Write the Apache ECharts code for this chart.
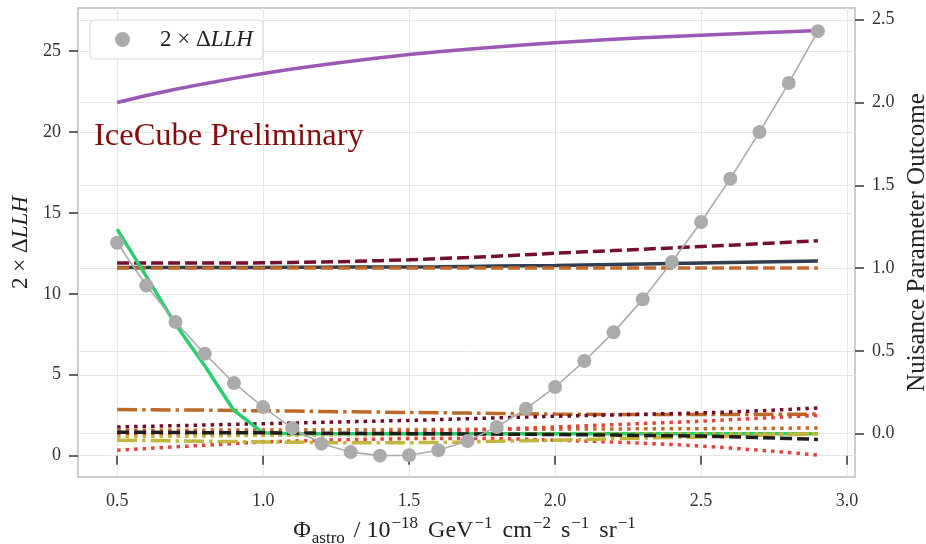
<!DOCTYPE html>
<html>
<head>
<meta charset="utf-8">
<script src="https://cdn.jsdelivr.net/npm/echarts@6/dist/echarts.min.js"></script>
<style>
  html, body { margin: 0; padding: 0; background: #fff; }
  #chart { width: 926px; height: 544px; }
</style>
</head>
<body>
<div id="chart"></div>
<script>
// flux points (x) and 2*dLLH scan (left axis)
const phi = [0.5, 0.6, 0.7, 0.8, 0.9, 1.0, 1.1, 1.2, 1.3, 1.4, 1.5, 1.6, 1.7, 1.8, 1.9, 2.0, 2.1, 2.2, 2.3, 2.4, 2.5, 2.6, 2.7, 2.8, 2.9];
const llh = [13.16, 10.52, 8.26, 6.30, 4.49, 3.00, 1.70, 0.74, 0.22, 0.0, 0.02, 0.33, 0.90, 1.77, 2.90, 4.24, 5.85, 7.62, 9.66, 11.97, 14.44, 17.12, 20.0, 23.03, 26.24];

// nuisance parameter outcomes (right axis)
const purpleSolid = [2.000, 2.042, 2.080, 2.114, 2.146, 2.175, 2.202, 2.227, 2.250, 2.271, 2.290, 2.307, 2.322, 2.336, 2.349, 2.361, 2.372, 2.382, 2.391, 2.399, 2.407, 2.414, 2.421, 2.428, 2.435];
const maroonDashed = [1.03, 1.03, 1.03, 1.03, 1.03, 1.032, 1.034, 1.037, 1.04, 1.045, 1.05, 1.057, 1.064, 1.072, 1.08, 1.09, 1.098, 1.106, 1.114, 1.122, 1.13, 1.138, 1.147, 1.156, 1.165];
const navySolid = [1.003, 1.003, 1.003, 1.003, 1.004, 1.004, 1.005, 1.005, 1.006, 1.006, 1.007, 1.008, 1.01, 1.012, 1.014, 1.016, 1.019, 1.022, 1.025, 1.028, 1.031, 1.034, 1.037, 1.040, 1.042];
const orangeDashed = [1.0, 1.0, 1.0, 1.0, 1.0, 1.0, 1.0, 1.0, 1.0, 1.0, 1.0, 1.0, 1.0, 1.0, 1.0, 1.0, 1.0, 1.0, 1.0, 1.0, 1.0, 1.0, 1.0, 1.0, 1.0];
const orangeDashDot = [0.145, 0.144, 0.143, 0.142, 0.14, 0.138, 0.136, 0.134, 0.132, 0.13, 0.128, 0.126, 0.124, 0.122, 0.12, 0.118, 0.117, 0.116, 0.115, 0.115, 0.115, 0.116, 0.116, 0.117, 0.118];
const maroonDotted = [0.04, 0.044, 0.048, 0.052, 0.056, 0.06, 0.064, 0.068, 0.072, 0.076, 0.08, 0.085, 0.09, 0.095, 0.1, 0.105, 0.109, 0.113, 0.117, 0.121, 0.125, 0.131, 0.138, 0.146, 0.155];
const orangeDotted = [0.02, 0.02, 0.021, 0.021, 0.022, 0.022, 0.023, 0.023, 0.024, 0.024, 0.025, 0.025, 0.026, 0.026, 0.027, 0.027, 0.028, 0.028, 0.029, 0.029, 0.03, 0.031, 0.032, 0.033, 0.034];
const redDottedA = [0.0, -0.003, -0.006, -0.008, -0.01, -0.01, -0.008, -0.005, -0.001, 0.004, 0.01, 0.015, 0.021, 0.027, 0.033, 0.04, 0.047, 0.054, 0.061, 0.068, 0.075, 0.084, 0.093, 0.102, 0.11];
const redDottedB = [-0.10, -0.09, -0.08, -0.07, -0.06, -0.05, -0.045, -0.04, -0.036, -0.033, -0.03, -0.029, -0.029, -0.03, -0.034, -0.04, -0.045, -0.051, -0.058, -0.066, -0.075, -0.087, -0.1, -0.114, -0.13];
const greenSolid = [1.235, 0.95, 0.66, 0.41, 0.14, 0.005, 0, 0, 0, 0, 0, 0, 0, 0, 0, 0, 0, 0, 0, 0, 0, 0, 0, 0, 0];
const yellowDotted = [-0.02, -0.018, -0.016, -0.014, -0.012, -0.01, -0.009, -0.008, -0.007, -0.006, -0.005, -0.005, -0.004, -0.004, -0.003, -0.003, -0.002, -0.002, -0.001, -0.001, 0, 0, 0, 0, 0];
const yellowDashDot = [-0.04, -0.042, -0.044, -0.046, -0.048, -0.05, -0.052, -0.054, -0.055, -0.055, -0.055, -0.053, -0.05, -0.046, -0.043, -0.04, -0.036, -0.031, -0.027, -0.023, -0.02, -0.015, -0.01, -0.005, 0.0];
const blackDashed = [0.008, 0.008, 0.007, 0.006, 0.006, 0.005, 0.004, 0.003, 0.002, 0.001, 0.0, -0.001, -0.002, -0.003, -0.004, -0.005, -0.007, -0.009, -0.011, -0.013, -0.015, -0.019, -0.024, -0.029, -0.035];

const xTicks = [0.5, 1.0, 1.5, 2.0, 2.5, 3.0];
const leftTicks = [0, 5, 10, 15, 20, 25];
const rightTicks = [0.0, 0.5, 1.0, 1.5, 2.0, 2.5];

const serif = '"Liberation Serif", "DejaVu Serif", serif';
const DASHED = [12, 5];
const DOTTED = [3.5, 5];
const DASHDOT = [20, 5, 3.5, 5];

function nuisance(name, vals, color, dash, z) {
  return {
    name: name,
    type: 'line',
    yAxisIndex: 1,
    data: phi.map((x, i) => [x, vals[i]]),
    symbol: 'none',
    silent: true,
    z: z,
    lineStyle: { color: color, width: 3.5, type: dash, cap: 'butt' }
  };
}

const chart = echarts.init(document.getElementById('chart'));

const option = {
  animation: false,
  backgroundColor: '#fff',
  grid: {
    left: 78, right: 71, top: 8, bottom: 67,
    outerBoundsMode: 'none',
    show: true, borderColor: '#cdcdcd', borderWidth: 2
  },
  legend: {
    data: ['2 × ΔLLH'],
    left: 90, top: 20,
    padding: [8, 10, 8, 25],
    backgroundColor: '#fff',
    borderColor: '#d8d8d8', borderWidth: 1, borderRadius: 4,
    icon: 'circle', itemWidth: 15, itemHeight: 15,
    formatter: () => '{a|2 × Δ}{b|LLH}',
    textStyle: {
      rich: {
        a: { fontFamily: serif, fontSize: 23, color: '#222', padding: [0, 0, 0, 25] },
        b: { fontFamily: serif, fontSize: 23, color: '#222', fontStyle: 'italic' }
      }
    }
  },
  graphic: [{
    type: 'text', left: 94, top: 120, z: 100,
    style: { text: 'IceCube Preliminary', font: '32.5px ' + serif, fill: '#850d0d' }
  }],
  xAxis: {
    type: 'value', min: 0.366, max: 3.027,
    name: '{m|Φ}{sub|astro}{m| / 10}{sup|−18}{m| GeV}{sup|−1}{m| cm}{sup|−2}{m| s}{sup|−1}{m| sr}{sup|−1}',
    nameLocation: 'middle', nameGap: 33,
    nameTextStyle: {
      rich: {
        m: { fontFamily: serif, fontSize: 24, color: '#222', lineHeight: 32 },
        sub: { fontFamily: serif, fontSize: 17, color: '#222', lineHeight: 17, verticalAlign: 'bottom', padding: [0, 3, 0, 1] },
        sup: { fontFamily: serif, fontSize: 17, color: '#222', lineHeight: 22, verticalAlign: 'top', padding: [0, 4, 0, 1] }
      }
    },
    axisLine: { show: false },
    axisTick: { show: true, customValues: xTicks, length: 9, lineStyle: { color: '#333', width: 1.5 } },
    axisLabel: { customValues: xTicks, margin: 15, fontFamily: serif, fontSize: 18, color: '#333', formatter: v => v.toFixed(1) },
    splitLine: { show: true, lineStyle: { color: '#e6e6e6', width: 1 } }
  },
  yAxis: [{
    type: 'value', min: -1.32, max: 27.67, position: 'left',
    name: '{n|2 × Δ}{i|LLH}',
    nameLocation: 'middle', nameGap: 42,
    nameTextStyle: {
      rich: {
        n: { fontFamily: serif, fontSize: 23, color: '#222' },
        i: { fontFamily: serif, fontSize: 23, color: '#222', fontStyle: 'italic' }
      }
    },
    axisLine: { show: false },
    axisTick: { show: true, customValues: leftTicks, length: 9, lineStyle: { color: '#333', width: 1.5 } },
    axisLabel: { customValues: leftTicks, margin: 17, fontFamily: serif, fontSize: 18, color: '#333' },
    splitLine: { show: true, lineStyle: { color: '#e6e6e6', width: 1 } }
  }, {
    type: 'value', min: -0.262, max: 2.571, position: 'right',
    name: 'Nuisance Parameter Outcome',
    nameLocation: 'middle', nameGap: 46,
    nameTextStyle: { fontFamily: serif, fontSize: 25, color: '#222' },
    axisLine: { show: false },
    axisTick: { show: true, customValues: rightTicks, length: 9, lineStyle: { color: '#333', width: 1.5 } },
    axisLabel: { customValues: rightTicks, margin: 17, fontFamily: serif, fontSize: 18, color: '#333', formatter: v => v.toFixed(1) },
    splitLine: { show: true, lineStyle: { color: '#e6e6e6', width: 1 } }
  }],
  series: [
    nuisance('purple', purpleSolid, '#9b59b6', 'solid', 2),
    nuisance('navy', navySolid, '#2f3e50', 'solid', 2),
    nuisance('orange dashed', orangeDashed, '#c06a2b', DASHED, 3),
    nuisance('maroon dashed', maroonDashed, '#74102f', DASHED, 3),
    nuisance('orange dashdot', orangeDashDot, '#bb6a2a', DASHDOT, 3),
    nuisance('maroon dotted', maroonDotted, '#6e0d2d', DOTTED, 3),
    nuisance('orange dotted', orangeDotted, '#bb6a2a', DOTTED, 3),
    nuisance('red dotted a', redDottedA, '#e0443a', DOTTED, 3),
    nuisance('red dotted b', redDottedB, '#e0443a', DOTTED, 3),
    nuisance('green', greenSolid, '#2ecc71', 'solid', 3),
    nuisance('yellow dotted', yellowDotted, '#c4b53c', DOTTED, 4),
    nuisance('yellow dashdot', yellowDashDot, '#c4b53c', DASHDOT, 4),
    nuisance('black dashed', blackDashed, '#221c1d', DASHED, 4),
    {
      name: '2 × ΔLLH',
      type: 'line',
      yAxisIndex: 0,
      data: phi.map((x, i) => [x, llh[i]]),
      symbol: 'circle', symbolSize: 14,
      itemStyle: { color: '#ababab' },
      lineStyle: { color: '#ababab', width: 1.6 },
      z: 5
    }
  ]
};

chart.setOption(option);
</script>
</body>
</html>
